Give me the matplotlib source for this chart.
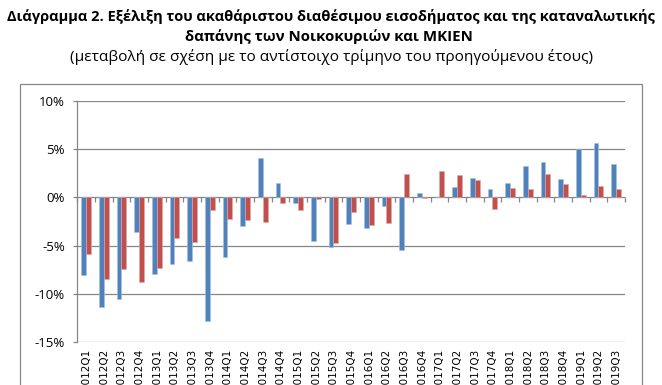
import matplotlib
matplotlib.use("Agg")
import matplotlib.pyplot as plt
from matplotlib.patches import Rectangle
from matplotlib.ticker import FuncFormatter
import numpy as np

plt.rcParams['font.family'] = ['Open Sans', 'DejaVu Sans']

quarters = [f"{y}Q{q}" for y in range(2012, 2020) for q in range(1, 5)][:31]

income = [-8.1, -11.4, -10.6, -3.6,
          -8.0, -6.9, -6.6, -12.8,
          -6.2, -3.0, 4.1, 1.5,
          -0.6, -4.5, -5.2, -2.8,
          -3.2, -0.9, -5.5, 0.5,
          0.0, 1.1, 2.0, 0.9,
          1.5, 3.3, 3.7, 1.9,
          5.0, 5.7, 3.5]
consumption = [-5.9, -8.5, -7.4, -8.8,
               -7.3, -4.2, -4.6, -1.3,
               -2.2, -2.3, -2.6, -0.6,
               -1.3, -0.2, -4.7, -1.5,
               -2.9, -2.7, 2.4, -0.1,
               2.7, 2.3, 1.8, -1.2,
               1.0, 0.9, 2.4, 1.4,
               0.3, 1.2, 0.9]
y_ticks = [-15, -10, -5, 0, 5, 10]

title1 = "Διάγραμμα 2. Εξέλιξη του ακαθάριστου διαθέσιμου εισοδήματος και της καταναλωτικής"
title2 = "δαπάνης των Νοικοκυριών και ΜΚΙΕΝ"
subtitle = "(μεταβολή σε σχέση με το αντίστοιχο τρίμηνο του προηγούμενου έτους)"

W, H = 662, 385
fig = plt.figure(figsize=(W / 100, H / 100), dpi=100)
ax = fig.add_axes([77.3 / W, 1 - 341.7 / H, (625 - 77.3) / W, (341.7 - 101.3) / H])

gray = '#868686'
blue = '#4F81BD'
red = '#C0504D'
x = np.arange(len(quarters))
w = 0.28
ax.bar(x - w / 2, income, w, color=blue, edgecolor='#A7BFDE', linewidth=0.4, zorder=3)
ax.bar(x + w / 2, consumption, w, color=red, edgecolor='#DFA8A6', linewidth=0.4, zorder=3)

ax.set_xlim(-0.5, len(quarters) - 0.5)
ax.set_ylim(-15, 10)
ax.set_yticks(y_ticks)
ax.yaxis.set_major_formatter(FuncFormatter(lambda v, p: f"{int(v)}%"))
ax.grid(axis='y', color=gray, linewidth=0.9, zorder=1)
ax.set_axisbelow(True)

for s in ['top', 'right', 'bottom']:
    ax.spines[s].set_visible(False)
ax.spines['left'].set_color(gray)
ax.spines['left'].set_linewidth(0.9)
ax.tick_params(axis='y', direction='out', length=3, width=0.9, color=gray,
               pad=6, labelsize=9.5, labelcolor='black')

ax.set_xticks(x)
ax.set_xticklabels(quarters, rotation=90, fontsize=7.5, family='DejaVu Sans')
ax.tick_params(axis='x', length=0, pad=5)

# category-boundary tick marks hanging below the zero line
zero_frac = (0 - y_ticks[0]) / (y_ticks[-1] - y_ticks[0])
ax.vlines(np.arange(len(quarters) + 1) - 0.5, zero_frac - 5 / 240.4, zero_frac,
          transform=ax.get_xaxis_transform(), color=gray, linewidth=0.9, zorder=2,
          clip_on=False)

fig.patches.append(Rectangle((19.5 / W, -0.1), (642 - 19.5) / W, (385 - 83.5) / H + 0.1,
                             transform=fig.transFigure, fill=False,
                             edgecolor=gray, linewidth=0.9))

fig.text(0.5, 1 - 17 / H, title1, ha='center', va='center', fontsize=10.5, fontweight='bold')
fig.text(0.497, 1 - 37 / H, title2, ha='center', va='center', fontsize=10.8, fontweight='bold')
fig.text(0.5, 1 - 57 / H, subtitle, ha='center', va='center', fontsize=11.1)

fig.savefig("out.png", dpi=100)
